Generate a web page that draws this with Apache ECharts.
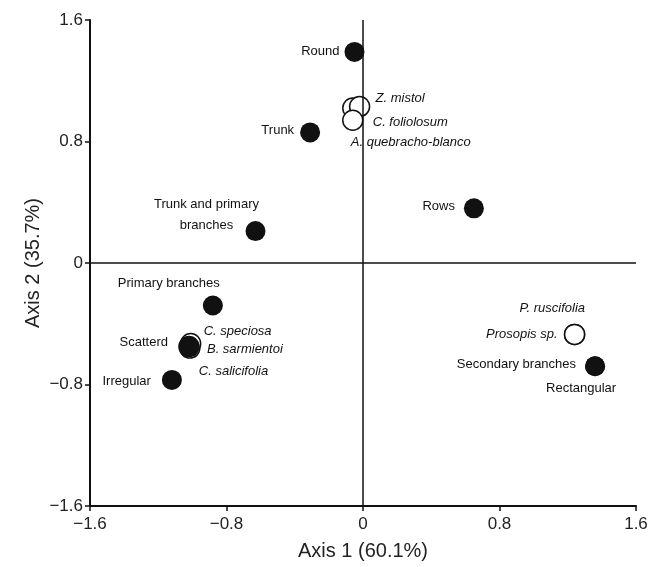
<!DOCTYPE html>
<html><head><meta charset="utf-8">
<script src="https://cdn.jsdelivr.net/npm/echarts@6/dist/echarts.min.js"></script>
<style>html,body{margin:0;padding:0;background:#fff}#c{width:655px;height:567px}</style>
</head><body><div id="c"></div>
<script>
// Attributes (filled circles)
const attrNames = ['Round','Trunk','Trunk and primary\nbranches','Rows','Primary branches','Scatterd','Irregular','Secondary branches','Rectangular'];
const attrX = [-0.05, -0.31, -0.63, 0.65, -0.88, -1.02, -1.12, 1.36, 1.36];
const attrY = [1.39, 0.86, 0.21, 0.36, -0.28, -0.55, -0.77, -0.68, -0.68];
// Species (open circles)
const spNames = ['C. foliolosum','Z. mistol','A. quebracho-blanco','C. salicifolia','C. speciosa','B. sarmientoi','P. ruscifolia','Prosopis sp.'];
const spX = [-0.06, -0.02, -0.06, -1.015, -1.01, -1.02, 1.24, 1.24];
const spY = [1.02, 1.03, 0.94, -0.56, -0.53, -0.55, -0.47, -0.47];
// Axis ticks
const axisMin = -1.6, axisMax = 1.6, axisStep = 0.8;
const xTitle = 'Axis 1 (60.1%)', yTitle = 'Axis 2 (35.7%)';

// label placement (align, dx, dy) relative to the marker centre
const labelLayout = {
  'Round':['right',-15,0],
  'Trunk':['right',-16,-2],
  'Trunk and primary\nbranches':['center',-49,-16],
  'Rows':['right',-19,-2],
  'Primary branches':['left',-95,-22],
  'Scatterd':['right',-21,-4],
  'Irregular':['right',-21,1],
  'Secondary branches':['right',-19,-2],
  'Rectangular':['left',-49,22],
  'Z. mistol':['left',16,-8],
  'C. foliolosum':['left',20,14],
  'A. quebracho-blanco':['left',-2,22],
  'C. speciosa':['left',13,-12],
  'B. sarmientoi':['left',18,3],
  'C. salicifolia':['left',9,23],
  'P. ruscifolia':['left',-55,-26],
  'Prosopis sp.':['right',-17,0]
};
const FONT = '"Liberation Sans", Arial, Helvetica, sans-serif';
function mk(names, xs, ys, italic){
  return names.map((n,i)=>{
    const l = labelLayout[n];
    return {name:n, value:[xs[i], ys[i]], label:{show:true, position:'inside', align:l[0], verticalAlign:'middle', offset:[l[1],l[2]], formatter:n, lineHeight:21, fontStyle: italic?'italic':'normal'}};
  });
}
const fmt = v => { const s = (Math.round(v*10)/10).toString(); return s.replace('-', '\u2212'); };
const chart = echarts.init(document.getElementById('c'), null, {renderer:'canvas'});
chart.setOption({
  animation:false,
  backgroundColor:'#fff',
  grid:{left:90, right:19, top:20, bottom:61},
  xAxis:{type:'value', min:axisMin, max:axisMax, interval:axisStep, position:'bottom',
    name:xTitle, nameLocation:'middle', nameGap:35,
    nameTextStyle:{fontSize:20, color:'#222', fontFamily:FONT},
    axisLine:{onZero:false, lineStyle:{color:'#111', width:2}},
    axisTick:{length:5, lineStyle:{color:'#111', width:1.5}},
    axisLabel:{formatter:fmt, fontSize:17, color:'#222', fontFamily:FONT, margin:10},
    splitLine:{show:false}},
  yAxis:{type:'value', min:axisMin, max:axisMax, interval:axisStep, position:'left',
    name:yTitle, nameLocation:'middle', nameGap:47, nameMoveOverlap:false,
    nameTextStyle:{fontSize:20, color:'#222', fontFamily:FONT},
    axisLine:{onZero:false, lineStyle:{color:'#111', width:2}},
    axisTick:{length:5, lineStyle:{color:'#111', width:1.5}},
    axisLabel:{formatter:fmt, fontSize:17, color:'#222', fontFamily:FONT, margin:7},
    splitLine:{show:false}},
  series:[
    {type:'scatter', name:'zero', data:[], silent:true,
     markLine:{silent:true, symbol:'none', label:{show:false},
       lineStyle:{color:'#111', width:1.5, type:'solid'},
       data:[{xAxis:0},{yAxis:0}]}},
    {type:'scatter', name:'species', symbol:'circle', symbolSize:20, z:3,
     itemStyle:{color:'#fff', borderColor:'#111', borderWidth:1.5, opacity:1},
     label:{color:'#111', fontSize:13, fontFamily:FONT},
     data:mk(spNames, spX, spY, true)},
    {type:'scatter', name:'attributes', symbol:'circle', symbolSize:20, z:4,
     itemStyle:{color:'#111', opacity:1},
     label:{color:'#111', fontSize:13, fontFamily:FONT},
     data:mk(attrNames, attrX, attrY, false)}
  ]
});
</script></body></html>
